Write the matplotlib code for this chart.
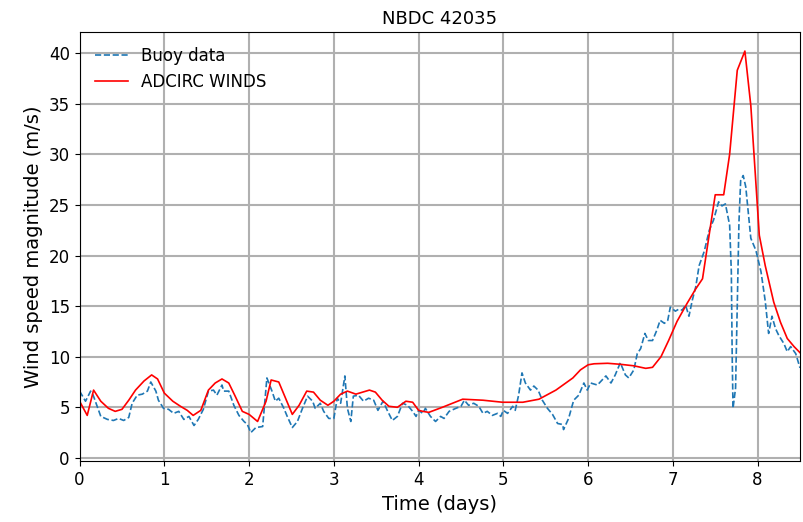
import matplotlib
matplotlib.use("Agg")
import matplotlib.pyplot as plt
import numpy as np

# Buoy observations (days, m/s)
buoy_t = [0.0, 0.07, 0.13, 0.16, 0.25, 0.33, 0.40, 0.46, 0.52, 0.58, 0.62, 0.68,
          0.74, 0.80, 0.84, 0.90, 0.93, 0.99, 1.05, 1.11, 1.17, 1.23, 1.29, 1.35,
          1.40, 1.46, 1.52, 1.58, 1.62, 1.68, 1.70, 1.76, 1.82, 1.88, 1.94, 1.98,
          2.02, 2.08, 2.16, 2.21, 2.27, 2.31, 2.35, 2.41, 2.45, 2.51, 2.57, 2.63,
          2.69, 2.75, 2.78, 2.84, 2.88, 2.94, 3.00, 3.04, 3.08, 3.13, 3.16, 3.20,
          3.23, 3.29, 3.35, 3.41, 3.47, 3.52, 3.58, 3.63, 3.69, 3.75, 3.81, 3.87,
          3.93, 3.97, 4.00, 4.05, 4.08, 4.14, 4.20, 4.26, 4.30, 4.36, 4.44, 4.50,
          4.54, 4.59, 4.65, 4.71, 4.76, 4.81, 4.87, 4.93, 4.97, 5.00, 5.05, 5.11,
          5.14, 5.18, 5.22, 5.26, 5.32, 5.36, 5.41, 5.46, 5.52, 5.58, 5.64, 5.70,
          5.71, 5.77, 5.83, 5.89, 5.95, 5.99, 6.03, 6.11, 6.21, 6.27, 6.32, 6.38,
          6.44, 6.48, 6.54, 6.58, 6.62, 6.67, 6.71, 6.76, 6.81, 6.85, 6.90, 6.94,
          6.97, 7.03, 7.07, 7.11, 7.15, 7.19, 7.23, 7.27, 7.31, 7.37, 7.43, 7.48,
          7.54, 7.58, 7.62, 7.67, 7.69, 7.70, 7.71, 7.74, 7.76, 7.78, 7.80, 7.83,
          7.86, 7.89, 7.92, 7.98, 8.04, 8.09, 8.13, 8.17, 8.21, 8.25, 8.31, 8.35,
          8.39, 8.45, 8.50]
buoy_ws = [6.6, 5.6, 6.6, 6.2, 4.1, 3.8, 3.7, 3.9, 3.7, 4.0, 5.4, 6.2,
           6.3, 6.6, 7.5, 6.6, 5.7, 4.9, 4.8, 4.4, 4.6, 3.8, 4.1, 3.2,
           3.8, 4.8, 6.6, 6.7, 6.2, 7.2, 6.6, 6.6, 5.2, 4.2, 3.6, 3.3,
           2.5, 3.0, 3.1, 7.9, 6.6, 5.6, 5.9, 4.9, 4.1, 3.0, 3.6, 4.9,
           6.1, 5.6, 4.9, 5.4, 4.6, 3.9, 3.9, 5.9, 5.4, 8.1, 4.9, 3.6,
           6.1, 6.2, 5.6, 5.9, 5.7, 4.7, 5.6, 4.7, 3.7, 4.1, 5.4, 5.2,
           4.6, 4.1, 4.7, 4.4, 4.9, 4.1, 3.6, 4.1, 3.9, 4.6, 4.9, 5.1,
           5.7, 5.2, 5.4, 5.1, 4.4, 4.6, 4.2, 4.4, 4.1, 4.7, 4.4, 5.1,
           4.7, 6.2, 8.4, 7.4, 6.7, 7.1, 6.7, 5.7, 4.9, 4.3, 3.4, 3.3,
           2.8, 3.9, 5.7, 6.2, 7.4, 6.7, 7.4, 7.2, 8.1, 7.4, 8.2, 9.4,
           8.2, 7.9, 8.7, 10.3, 10.8, 12.3, 11.6, 11.6, 12.6, 13.6, 13.3, 13.6,
           14.9, 14.5, 14.7, 14.6, 15.1, 14.0, 15.6, 16.9, 19.0, 20.4, 22.5, 23.5,
           25.3, 24.9, 25.1, 23.0, 18.4, 10.2, 4.9, 6.9, 15.1, 23.3, 27.4, 27.9,
           26.8, 24.3, 21.7, 20.5, 18.4, 15.5, 12.3, 14.0, 12.8, 12.1, 11.3, 10.5,
           11.0, 10.3, 8.9]

# ADCIRC model winds (days, m/s)
adc_t = [0.0, 0.09, 0.165, 0.25, 0.34, 0.42, 0.50, 0.58, 0.66, 0.76, 0.85, 0.92,
         1.00, 1.10, 1.19, 1.27, 1.34, 1.43, 1.52, 1.60, 1.68, 1.76, 1.83, 1.92,
         2.00, 2.10, 2.20, 2.26, 2.35, 2.43, 2.51, 2.59, 2.68, 2.76, 2.84, 2.93,
         3.00, 3.08, 3.16, 3.26, 3.34, 3.42, 3.49, 3.57, 3.65, 3.75, 3.85, 3.93,
         4.00, 4.05, 4.12, 4.28, 4.52, 4.76, 4.99, 5.23, 5.42, 5.62, 5.82, 5.91,
         6.00, 6.07, 6.23, 6.38, 6.54, 6.68, 6.76, 6.86, 6.95, 7.05, 7.17, 7.27,
         7.35, 7.50, 7.60, 7.67, 7.76, 7.85, 7.92, 8.02, 8.09, 8.19, 8.27, 8.35,
         8.43, 8.50]
adc_ws = [5.6, 4.2, 6.7, 5.6, 4.9, 4.6, 4.8, 5.7, 6.7, 7.6, 8.2, 7.8,
          6.4, 5.6, 5.1, 4.7, 4.2, 4.7, 6.7, 7.4, 7.8, 7.4, 6.2, 4.6,
          4.3, 3.6, 5.6, 7.7, 7.5, 5.9, 4.3, 5.2, 6.6, 6.5, 5.7, 5.2,
          5.6, 6.3, 6.6, 6.3, 6.5, 6.7, 6.5, 5.7, 5.1, 5.0, 5.6, 5.5,
          4.7, 4.6, 4.5, 5.0, 5.8, 5.7, 5.5, 5.5, 5.8, 6.7, 7.9, 8.7,
          9.2, 9.3, 9.35, 9.25, 9.1, 8.85, 8.95, 10.0, 11.6, 13.5, 15.3, 16.7,
          17.7, 26.0, 26.0, 30.0, 38.3, 40.2, 34.8, 22.0, 19.0, 15.4, 13.4, 11.8,
          11.0, 10.4]

fig, ax = plt.subplots(figsize=(8.04, 5.22), dpi=100)
fig.subplots_adjust(left=0.099, right=0.995, top=0.939, bottom=0.116)

ax.plot(buoy_t, buoy_ws, "--", color="#1f77b4", linewidth=1.2, label="Buoy data")
ax.plot(adc_t, adc_ws, "-", color="red", linewidth=1.2, label="ADCIRC WINDS")

ax.set_title("NBDC 42035", fontsize=13)
ax.set_xlabel("Time (days)", fontsize=14)
ax.set_ylabel("Wind speed magnitude (m/s)", fontsize=14)
ax.tick_params(labelsize=12)
ax.grid(True, color="#b0b0b0", linewidth=1.5)
ax.set_xlim(0, 8.5)
ax.set_ylim(-0.35, 42.1)
ax.set_xticks(np.arange(0, 9, 1))
ax.set_yticks(np.arange(0, 45, 5))
ax.legend(loc="upper left", frameon=False, fontsize=12)

plt.savefig("out.png", dpi=100)
